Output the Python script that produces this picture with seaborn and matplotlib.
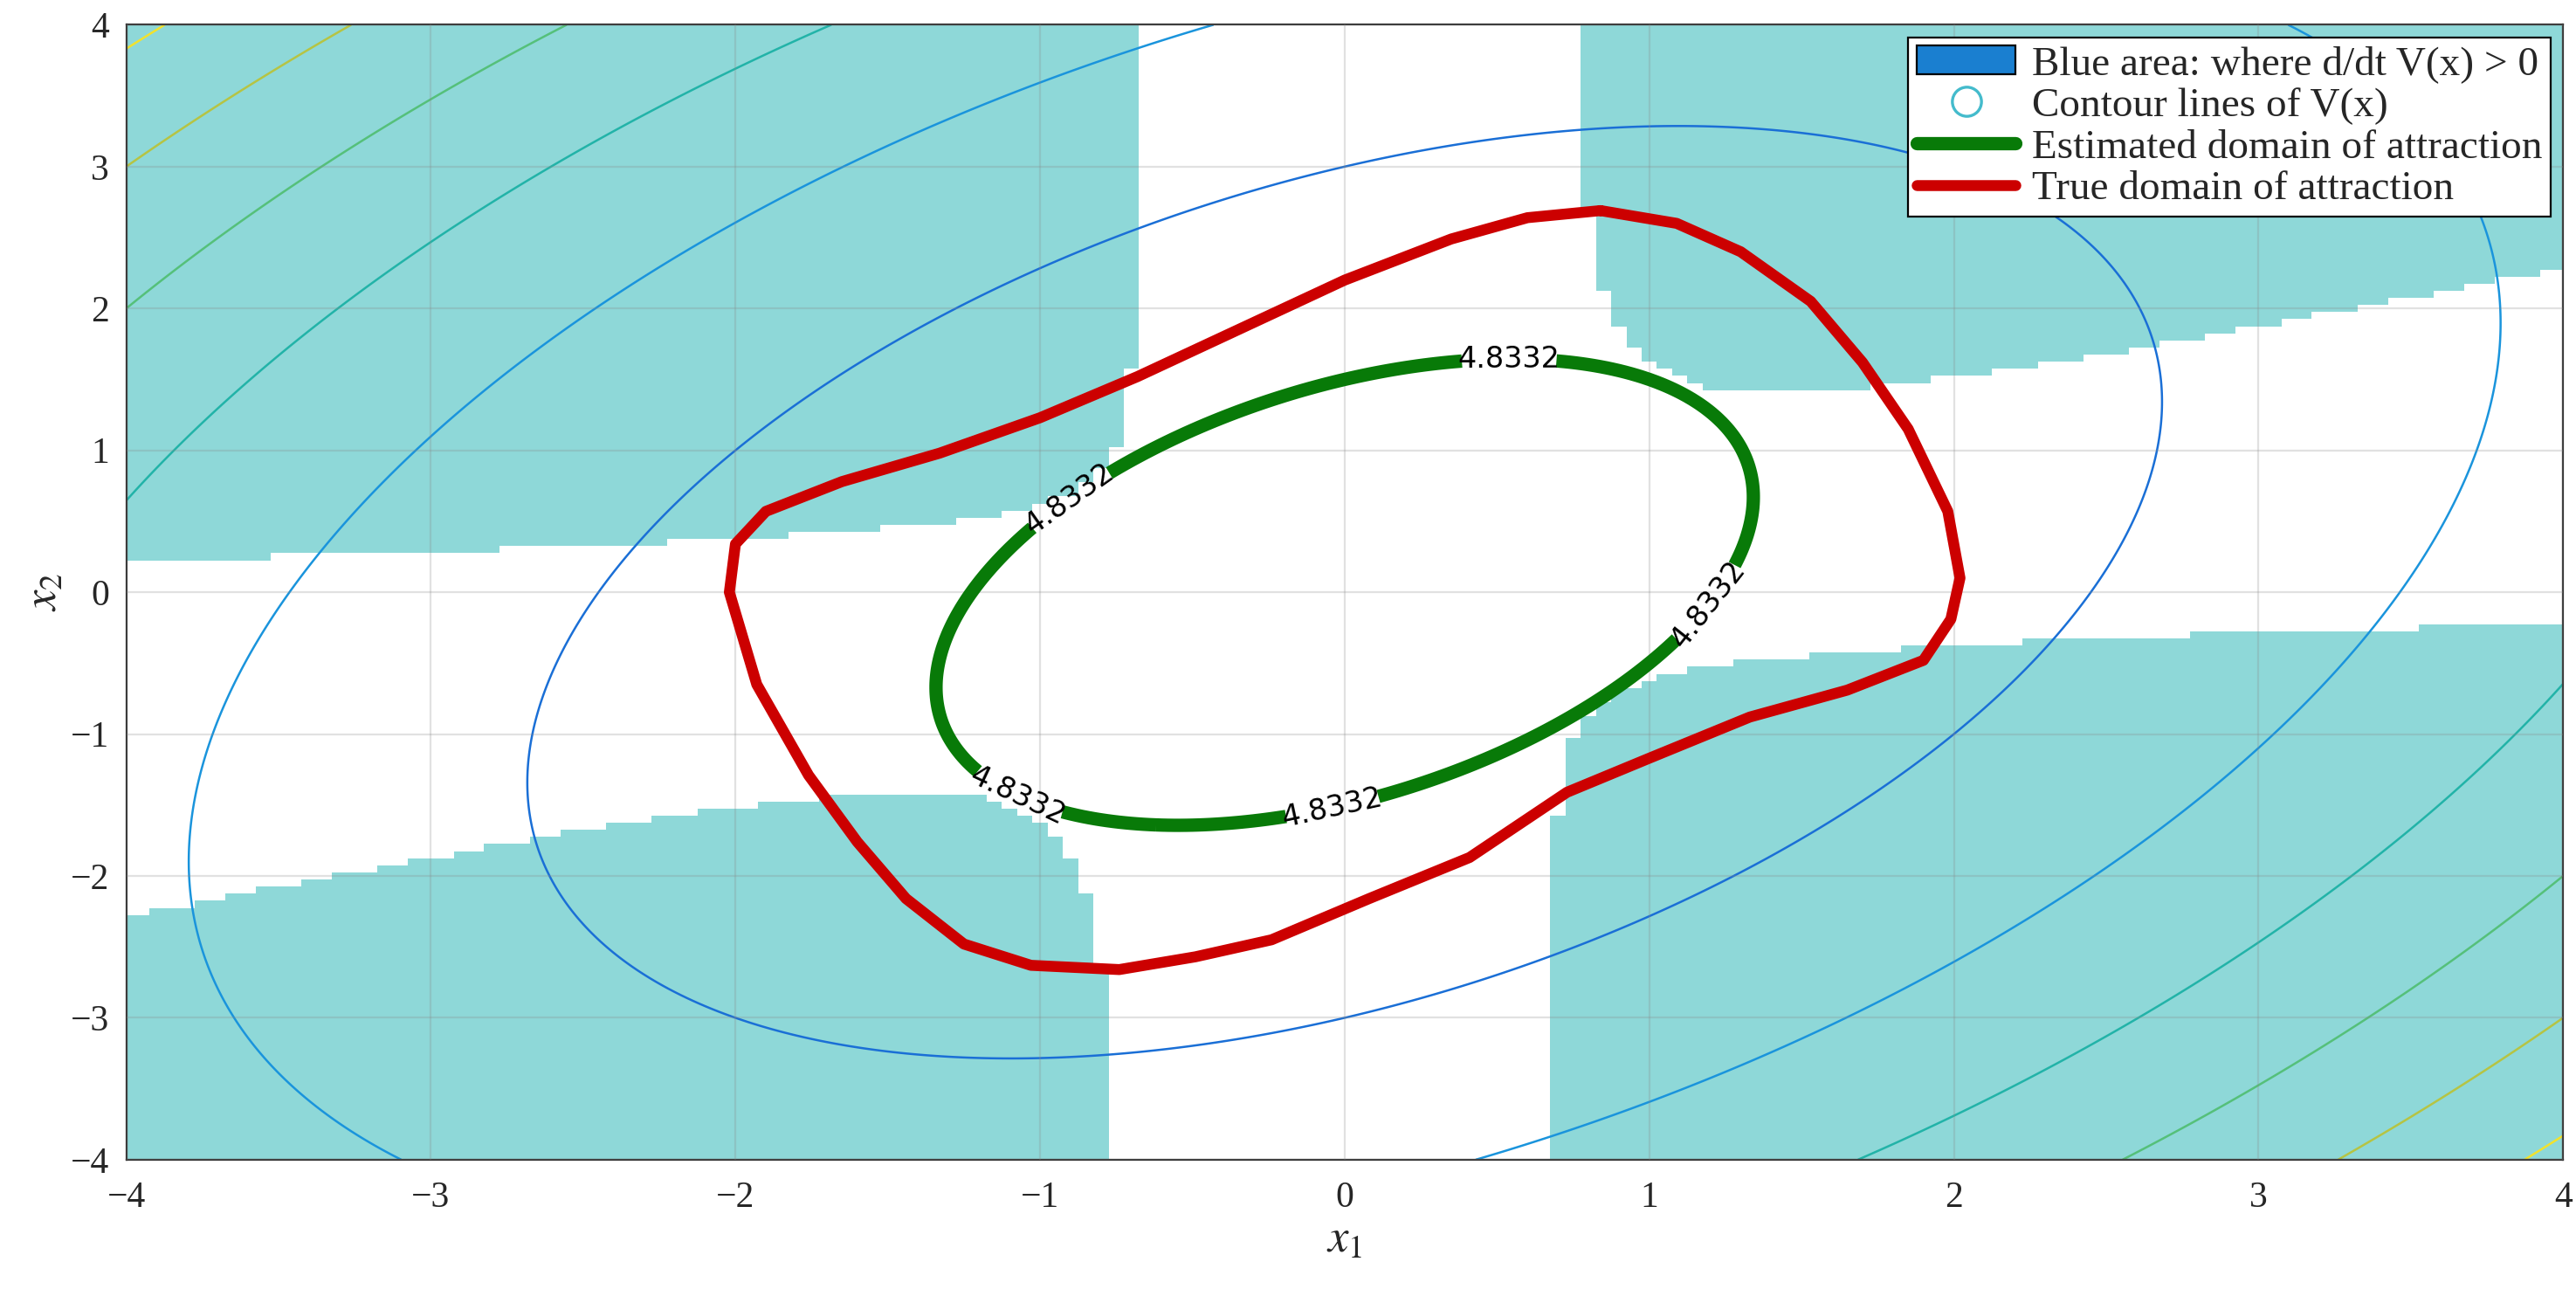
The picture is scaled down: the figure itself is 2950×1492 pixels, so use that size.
import numpy as np
import matplotlib.pyplot as plt
import seaborn as sns
from matplotlib.patches import Patch
from matplotlib.lines import Line2D

sns.set_style("white")
plt.rcParams['font.family'] = ['Liberation Serif', 'DejaVu Serif']
plt.rcParams['mathtext.fontset'] = 'stix'

# system: x1' = -x2, x2' = x1 + (x1^2 - 1) x2 ; V = x'Px
P = np.array([[1.5, -0.5], [-0.5, 1.0]])
v_levels = [9, 18, 27, 36, 45, 54]
v_colors = ['#1a6fd6', '#1a94dc', '#22b3a8', '#55c07a', '#b6c443', '#f2e22c']
est_level = 2.25
est_label = "4.8332"
label_pos = [(-0.95, 0.80), (0.54, 1.64), (1.22, -0.13), (-1.08, -1.47), (-0.04, -1.52)]

# true domain of attraction
true_x1 = [0.84, 1.09, 1.30, 1.53, 1.70, 1.85, 1.98, 2.02, 1.99, 1.90, 1.65, 1.33, 1.00, 0.73,
           0.41, 0.08, -0.24, -0.49, -0.74, -1.03, -1.25, -1.44, -1.60, -1.76, -1.93, -2.02,
           -2.00, -1.90, -1.65, -1.33, -1.00, -0.68, -0.35, 0.00, 0.35, 0.60, 0.84]
true_x2 = [2.69, 2.60, 2.40, 2.05, 1.62, 1.15, 0.57, 0.10, -0.19, -0.48, -0.69, -0.88, -1.17,
           -1.41, -1.87, -2.16, -2.45, -2.57, -2.66, -2.63, -2.48, -2.16, -1.76, -1.29, -0.65,
           0.00, 0.34, 0.57, 0.78, 0.98, 1.23, 1.52, 1.85, 2.20, 2.49, 2.64, 2.69]

# fields
g = np.linspace(-4, 4, 401)
X1, X2 = np.meshgrid(g, g)
V = P[0, 0] * X1**2 + 2 * P[0, 1] * X1 * X2 + P[1, 1] * X2**2
gc = np.arange(-4, 4.0001, 0.05)
C1, C2 = np.meshgrid(gc, gc)
f1 = -C2
f2 = C1 + (C1**2 - 1) * C2
dV = (2 * P[0, 0] * C1 + 2 * P[0, 1] * C2) * f1 + (2 * P[0, 1] * C1 + 2 * P[1, 1] * C2) * f2
mask = np.where(dV > 0, 1.0, np.nan)

fig = plt.figure(figsize=(14.75, 7.46), dpi=200)
ax = fig.add_axes([0.049, 0.11, 0.946, 0.871])
ax.pcolormesh(C1, C2, mask, cmap=plt.matplotlib.colors.ListedColormap(['#8ed8d8']),
              shading='nearest', zorder=0)
ax.contour(X1, X2, V, levels=v_levels, colors=v_colors, linewidths=0.9, zorder=1)
cs = ax.contour(X1, X2, V, levels=[est_level], colors='#087a08', linewidths=5.5, zorder=3)
ax.clabel(cs, fmt={est_level: est_label}, fontsize=12, manual=label_pos, inline=True,
          inline_spacing=8)
for t in cs.labelTexts:
    t.set_family('DejaVu Sans')
    t.set_color('black')
ax.plot(true_x1, true_x2, color='#cc0000', lw=4.5, zorder=4)

ax.set_xlim(-4, 4)
ax.set_ylim(-4, 4)
ax.set_xticks(range(-4, 5))
ax.set_yticks(range(-4, 5))
ax.grid(True, color='#888888', alpha=0.25, lw=0.8, zorder=2)
ax.set_axisbelow(False)
ax.tick_params(labelsize=15, direction='in', length=5)
ax.tick_params(axis='x', pad=9)
ax.tick_params(axis='y', pad=7)
ax.set_xlabel('$x_1$', fontsize=19, labelpad=2)
ax.set_ylabel('$x_2$', fontsize=19, labelpad=2)
for s in ax.spines.values():
    s.set_color('#333333')

handles = [
    Patch(facecolor='#1a7fd0', edgecolor='black', lw=0.8),
    Line2D([], [], ls='none', marker='o', markersize=12, markerfacecolor='white',
           markeredgecolor='#44bbcc', markeredgewidth=1.2),
    Line2D([], [], color='#087a08', lw=5.5),
    Line2D([], [], color='#cc0000', lw=4.5),
]
labels = ['Blue area: where d/dt V(x) > 0', 'Contour lines of V(x)',
          'Estimated domain of attraction', 'True domain of attraction']
leg = ax.legend(handles, labels, loc='upper right', fontsize=17, frameon=True, fancybox=False,
                edgecolor='black', framealpha=1, borderpad=0.2, labelspacing=0.1,
                handlelength=2.4, handletextpad=0.4, borderaxespad=0.3)
leg.get_frame().set_linewidth(0.8)

fig.savefig('out.png', dpi=200)
